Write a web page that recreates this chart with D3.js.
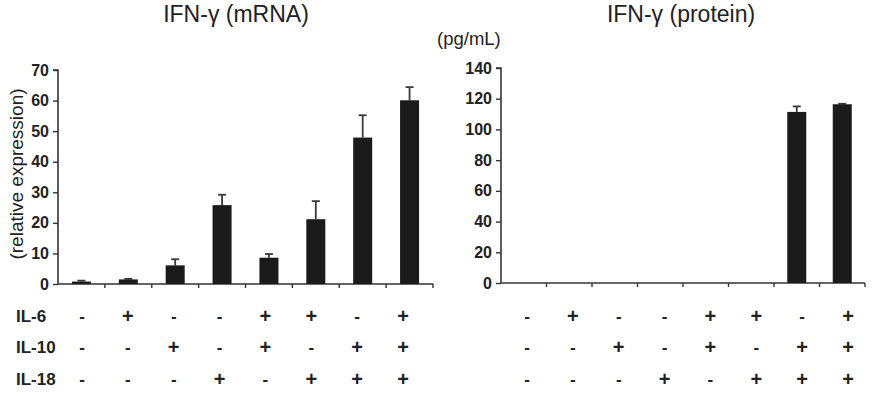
<!DOCTYPE html>
<html>
<head>
<meta charset="utf-8">
<script src="https://cdn.jsdelivr.net/npm/d3@7"></script>
<style>
  body { margin: 0; background: #fff; }
  svg { display: block; font-family: "Liberation Sans", Arial, Helvetica, sans-serif; }
</style>
</head>
<body>
<svg id="chart" width="873" height="398"></svg>
<script>
// treatment conditions (one column per bar)
const groups = ["c1", "c2", "c3", "c4", "c5", "c6", "c7", "c8"];
const il6  = ["-", "+", "-", "-", "+", "+", "-", "+"];
const il10 = ["-", "-", "+", "-", "+", "-", "+", "+"];
const il18 = ["-", "-", "-", "+", "-", "+", "+", "+"];
const rowLabels = ["IL-6", "IL-10", "IL-18"];

// IFN-g mRNA (relative expression) and upper error
const mrnaValues = [0.8, 1.5, 6.1, 25.8, 8.6, 21.2, 47.9, 60.1];
const mrnaErr    = [0.3, 0.2, 2.0, 3.4, 1.2, 5.9, 7.3, 4.3];
const mrnaTicks  = [0, 10, 20, 30, 40, 50, 60, 70];

// IFN-g protein (pg/mL) and upper error
const protValues = [0, 0, 0, 0, 0, 0, 111.4, 116.4];
const protErr    = [0, 0, 0, 0, 0, 0, 3.6, 0.3];
const protTicks  = [0, 20, 40, 60, 80, 100, 120, 140];

const svg = d3.select("#chart");
const axisColor = "#333";
const barColor = "#1b1b1b";

function drawPanel(opt) {
  const x = d3.scaleBand().domain(groups).range([opt.x0, opt.x1]).paddingInner(0).paddingOuter(0);
  const y = d3.scaleLinear().domain([0, opt.max]).range([opt.y0, opt.y1]);
  const g = svg.append("g");

  // y axis
  const yAxis = g.append("g")
    .attr("transform", `translate(${opt.x0},0)`)
    .call(d3.axisLeft(y).tickValues(opt.ticks).tickSize(5).tickPadding(4));
  yAxis.select(".domain").attr("stroke", axisColor).attr("stroke-width", 1.6)
    .attr("d", `M-5,${opt.y1}H0V${opt.y0}`);
  yAxis.selectAll(".tick line").attr("stroke", axisColor).attr("stroke-width", 1.4);
  yAxis.selectAll(".tick text")
    .attr("fill", "#222").attr("font-size", 16).attr("font-weight", "bold");

  // x axis line with boundary ticks
  g.append("line")
    .attr("x1", opt.x0).attr("x2", opt.x1)
    .attr("y1", opt.y0).attr("y2", opt.y0)
    .attr("stroke", axisColor).attr("stroke-width", 1.6);
  const bounds = groups.map(d => x(d)).concat([opt.x1]);
  g.selectAll(".xt").data(bounds.slice(1)).join("line")
    .attr("x1", d => d).attr("x2", d => d)
    .attr("y1", opt.y0).attr("y2", opt.y0 + 4)
    .attr("stroke", axisColor).attr("stroke-width", 1.4);

  // error bars (upper only)
  const bw = 19;
  groups.forEach((d, i) => {
    if (opt.err[i] <= 0) return;
    const cx = x(d) + x.bandwidth() / 2;
    const top = y(opt.values[i] + opt.err[i]);
    g.append("line").attr("x1", cx).attr("x2", cx)
      .attr("y1", y(opt.values[i])).attr("y2", top)
      .attr("stroke", "#3a3a3a").attr("stroke-width", 1.8);
    g.append("line").attr("x1", cx - 4).attr("x2", cx + 4)
      .attr("y1", top).attr("y2", top)
      .attr("stroke", "#3a3a3a").attr("stroke-width", 1.8);
  });

  // bars
  g.selectAll(".bar").data(groups).join("rect")
    .attr("x", d => x(d) + x.bandwidth() / 2 - bw / 2)
    .attr("width", bw)
    .attr("y", (d, i) => y(opt.values[i]))
    .attr("height", (d, i) => opt.y0 - y(opt.values[i]))
    .attr("fill", barColor);

  // title
  g.append("text")
    .attr("x", opt.titleX).attr("y", 22)
    .attr("text-anchor", "middle")
    .attr("font-size", 23).attr("fill", "#222")
    .text(opt.title);

  // +/- table
  const sx = d3.scalePoint().domain(groups).range(opt.signRange);
  [il6, il10, il18].forEach((row, r) => {
    g.selectAll(null).data(row).join("text")
      .attr("x", (d, i) => sx(groups[i]))
      .attr("y", 316 + r * 31.3)
      .attr("dy", "0.35em")
      .attr("text-anchor", "middle")
      .attr("font-size", d => d === "+" ? 20 : 17)
      .attr("font-weight", "bold")
      .attr("fill", "#222")
      .text(d => d);
  });
}

drawPanel({
  x0: 58, x1: 433, y0: 284, y1: 70, max: 70,
  ticks: mrnaTicks, values: mrnaValues, err: mrnaErr,
  title: "IFN-γ (mRNA)", titleX: 236, signRange: [82, 403]
});

drawPanel({
  x0: 501, x1: 865, y0: 283, y1: 68, max: 140,
  ticks: protTicks, values: protValues, err: protErr,
  title: "IFN-γ (protein)", titleX: 681, signRange: [527, 848]
});

// y labels
svg.append("text")
  .attr("transform", "translate(23,174) rotate(-90)")
  .attr("text-anchor", "middle")
  .attr("font-size", 19).attr("fill", "#222")
  .text("(relative expression)");

svg.append("text")
  .attr("x", 437).attr("y", 45)
  .attr("font-size", 18.5).attr("fill", "#222")
  .text("(pg/mL)");

// row labels
rowLabels.forEach((t, r) => {
  svg.append("text")
    .attr("x", 16).attr("y", 316 + r * 31.3)
    .attr("dy", "0.35em")
    .attr("font-size", 17).attr("font-weight", "bold").attr("fill", "#222")
    .text(t);
});
</script>
</body>
</html>
